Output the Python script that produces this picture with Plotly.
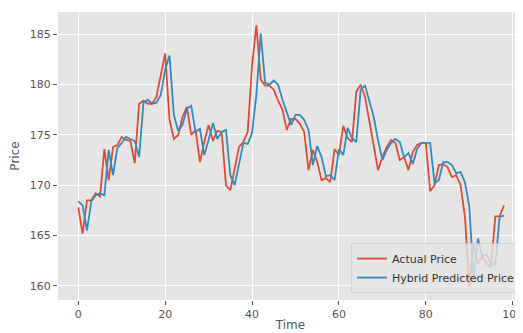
import plotly.graph_objects as go

time = list(range(99))

actual = [167.8, 165.2, 168.5, 168.5, 169.2, 168.9, 173.6, 170.5, 173.8, 174.0,
          174.8, 174.5, 174.4, 172.2, 178.1, 178.4, 178.1, 178.1, 178.8, 181.1,
          183.1, 176.5, 174.6, 175.0, 176.8, 177.8, 175.0, 175.5, 172.3, 174.3,
          176.0, 174.4, 175.4, 175.3, 170.0, 169.5, 171.8, 173.8, 174.3, 175.3,
          181.9, 185.9, 180.5, 179.9, 179.9, 179.5, 178.4, 177.5, 175.5, 176.6,
          176.6, 176.1, 175.3, 171.5, 173.5, 172.3, 170.5, 170.7, 170.3, 173.6,
          173.0, 175.9, 174.7, 174.3, 179.3, 180.0, 178.8, 176.3, 173.8, 171.5,
          172.8, 173.8, 174.5, 174.2, 172.5, 172.8, 171.5, 173.3, 174.0, 174.2,
          174.2, 169.4, 170.0, 172.0, 172.1, 171.8, 170.8, 171.0, 170.0, 166.9,
          159.9, 164.2, 162.2, 162.9, 162.2, 161.9, 166.9, 166.9, 168.0]

predicted = [168.4, 168.0, 165.5, 168.4, 169.0, 169.2, 169.0, 173.5, 171.0, 173.7,
             174.2, 174.8, 174.6, 174.4, 172.8, 178.2, 178.5, 178.1, 178.2, 179.0,
             181.5, 182.9, 177.0, 175.4, 176.0, 177.6, 177.9, 175.3, 175.6, 173.0,
             174.5, 176.2, 174.6, 175.3, 175.5, 171.0, 170.0, 172.3, 174.2, 174.1,
             175.2, 179.0, 185.1, 180.2, 180.0, 180.4, 180.0, 178.5, 177.3, 176.0,
             177.0, 177.0, 176.5, 175.5, 172.0, 173.9, 172.8, 170.9, 171.0, 170.5,
             173.6, 173.0, 175.7, 174.7, 174.3, 179.5, 179.9, 178.3, 176.8, 174.5,
             172.5, 173.5, 174.2, 174.6, 174.3, 172.8, 173.2, 172.1, 173.6, 174.2,
             174.2, 174.2, 170.2, 170.5, 172.3, 172.3, 172.0, 171.2, 171.3, 170.3,
             167.9, 160.8, 164.7, 162.9, 163.1, 162.2, 162.1, 166.9, 166.95]

x_ticks = [0, 20, 40, 60, 80, 100]
y_ticks = [160, 165, 170, 175, 180, 185]

fig = go.Figure()
fig.add_trace(go.Scatter(x=time, y=actual, mode="lines", name="Actual Price",
                         line=dict(color="#E24A33", width=1.8)))
fig.add_trace(go.Scatter(x=time, y=predicted, mode="lines", name="Hybrid Predicted Price",
                         line=dict(color="#348ABD", width=1.8)))

axis_common = dict(
    showgrid=True, gridcolor="white", gridwidth=1.2, zeroline=False,
    showline=False, ticks="outside", ticklen=4, tickwidth=1, tickcolor="#555555",
    tickfont=dict(family="DejaVu Sans", size=11, color="#555555"),
    automargin=False, ticklabeloverflow="allow",
)

# The page body has an 8px default margin, so the figure is sized/offset to compensate.
fig.update_layout(
    width=515, height=325,
    margin=dict(l=50, r=0, t=4, b=33, autoexpand=False),
    paper_bgcolor="white",
    plot_bgcolor="#E5E5E5",
    font=dict(family="DejaVu Sans", color="#555555"),
    xaxis=dict(range=[-4.67, 102.37], tickvals=x_ticks,
               title=dict(text="Time", font=dict(size=12, color="#555555"), standoff=0),
               **axis_common),
    yaxis=dict(range=[158.59, 187.22], tickvals=y_ticks,
               title=dict(text="Price", font=dict(size=12, color="#555555"), standoff=9),
               **axis_common),
    legend=dict(x=0.9957, y=0.024, xanchor="right", yanchor="bottom",
                bgcolor="rgba(229,229,229,0.8)", bordercolor="rgba(204,204,204,0.8)",
                borderwidth=1, font=dict(family="DejaVu Sans", size=11, color="#333333"),
                itemwidth=30, tracegroupgap=0),
    showlegend=True,
)

fig.write_html("out.html")
